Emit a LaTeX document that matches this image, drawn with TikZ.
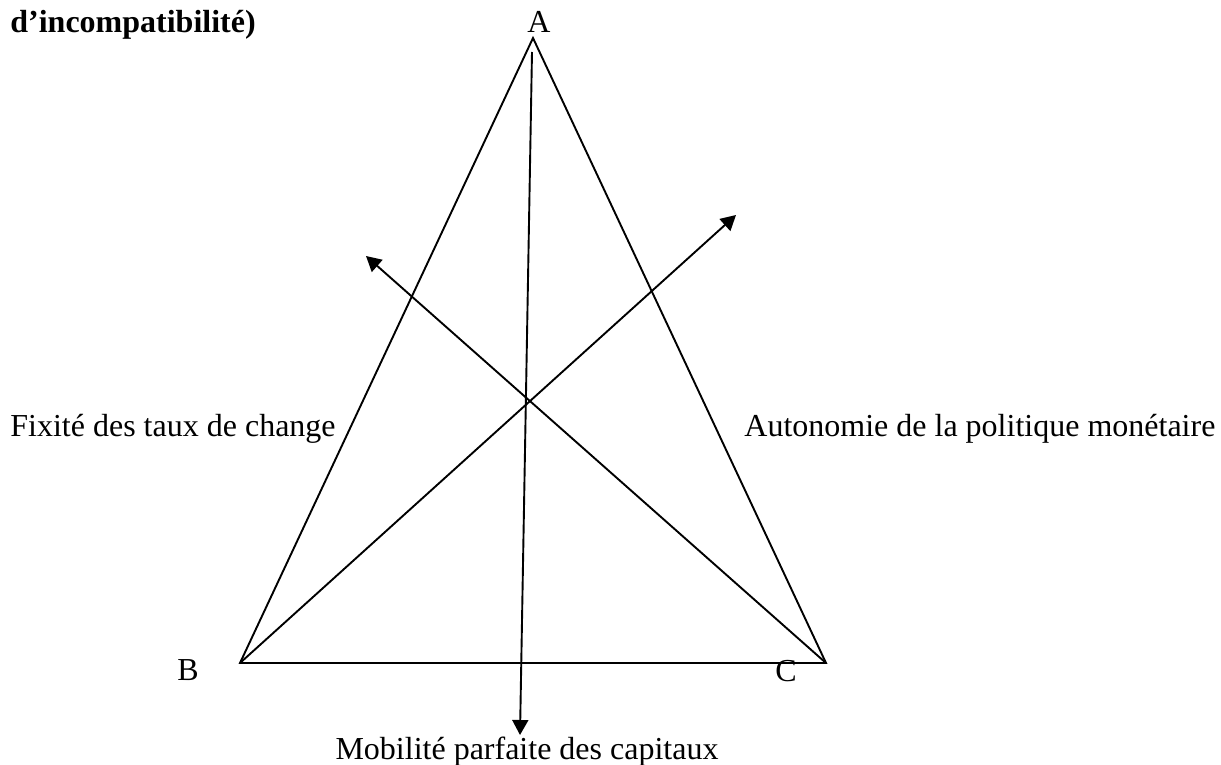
\documentclass[tikz,border=0pt]{standalone}
\usepackage{fontspec}
\setmainfont{Liberation Serif}
\usetikzlibrary{arrows.meta}
\tikzset{
  >={Triangle[length=7.5pt,width=8pt]},
  edge/.style={line width=0.95pt, line join=miter},
  axis/.style={line width=0.95pt, ->},
  lbl/.style={inner sep=0pt, font=\fontsize{16}{19}\selectfont},
  ttl/.style={inner sep=0pt, font=\fontsize{16}{19}\selectfont\bfseries},
}
\begin{document}
\begin{tikzpicture}[x=0.5pt,y=-0.5pt]
  \useasboundingbox (0,0) rectangle (1221,765);
  % sommets du triangle
  \coordinate (A) at (533,38);
  \coordinate (B) at (240,663);
  \coordinate (C) at (826,663);
  % extrémités des flèches
  \coordinate (topA) at (532,52);
  \coordinate (tipM) at (520,735);
  \coordinate (tipF) at (366,256);
  \coordinate (tipP) at (736,215);

  \node[ttl, anchor=base west] (titre) at (10,33) {d’incompatibilité)};
  \node[lbl, anchor=base] (lA) at (539,33) {A};
  \node[lbl, anchor=base] (lB) at (188,680) {B};
  \node[lbl, anchor=base] (lC) at (786,681) {C};
  \node[lbl, anchor=base west] (fix) at (10,436) {Fixité des taux de change};
  \node[lbl, anchor=base west] (auto) at (744,436) {Autonomie de la politique monétaire};
  \node[lbl, anchor=base] (mob) at (527,759) {Mobilité parfaite des capitaux};

  \draw[edge] (A) -- (B) -- (C) -- cycle;
  \draw[axis] (topA) -- (tipM);
  \draw[axis] (B) -- (tipP);
  \draw[axis] (C) -- (tipF);
\end{tikzpicture}
\end{document}
